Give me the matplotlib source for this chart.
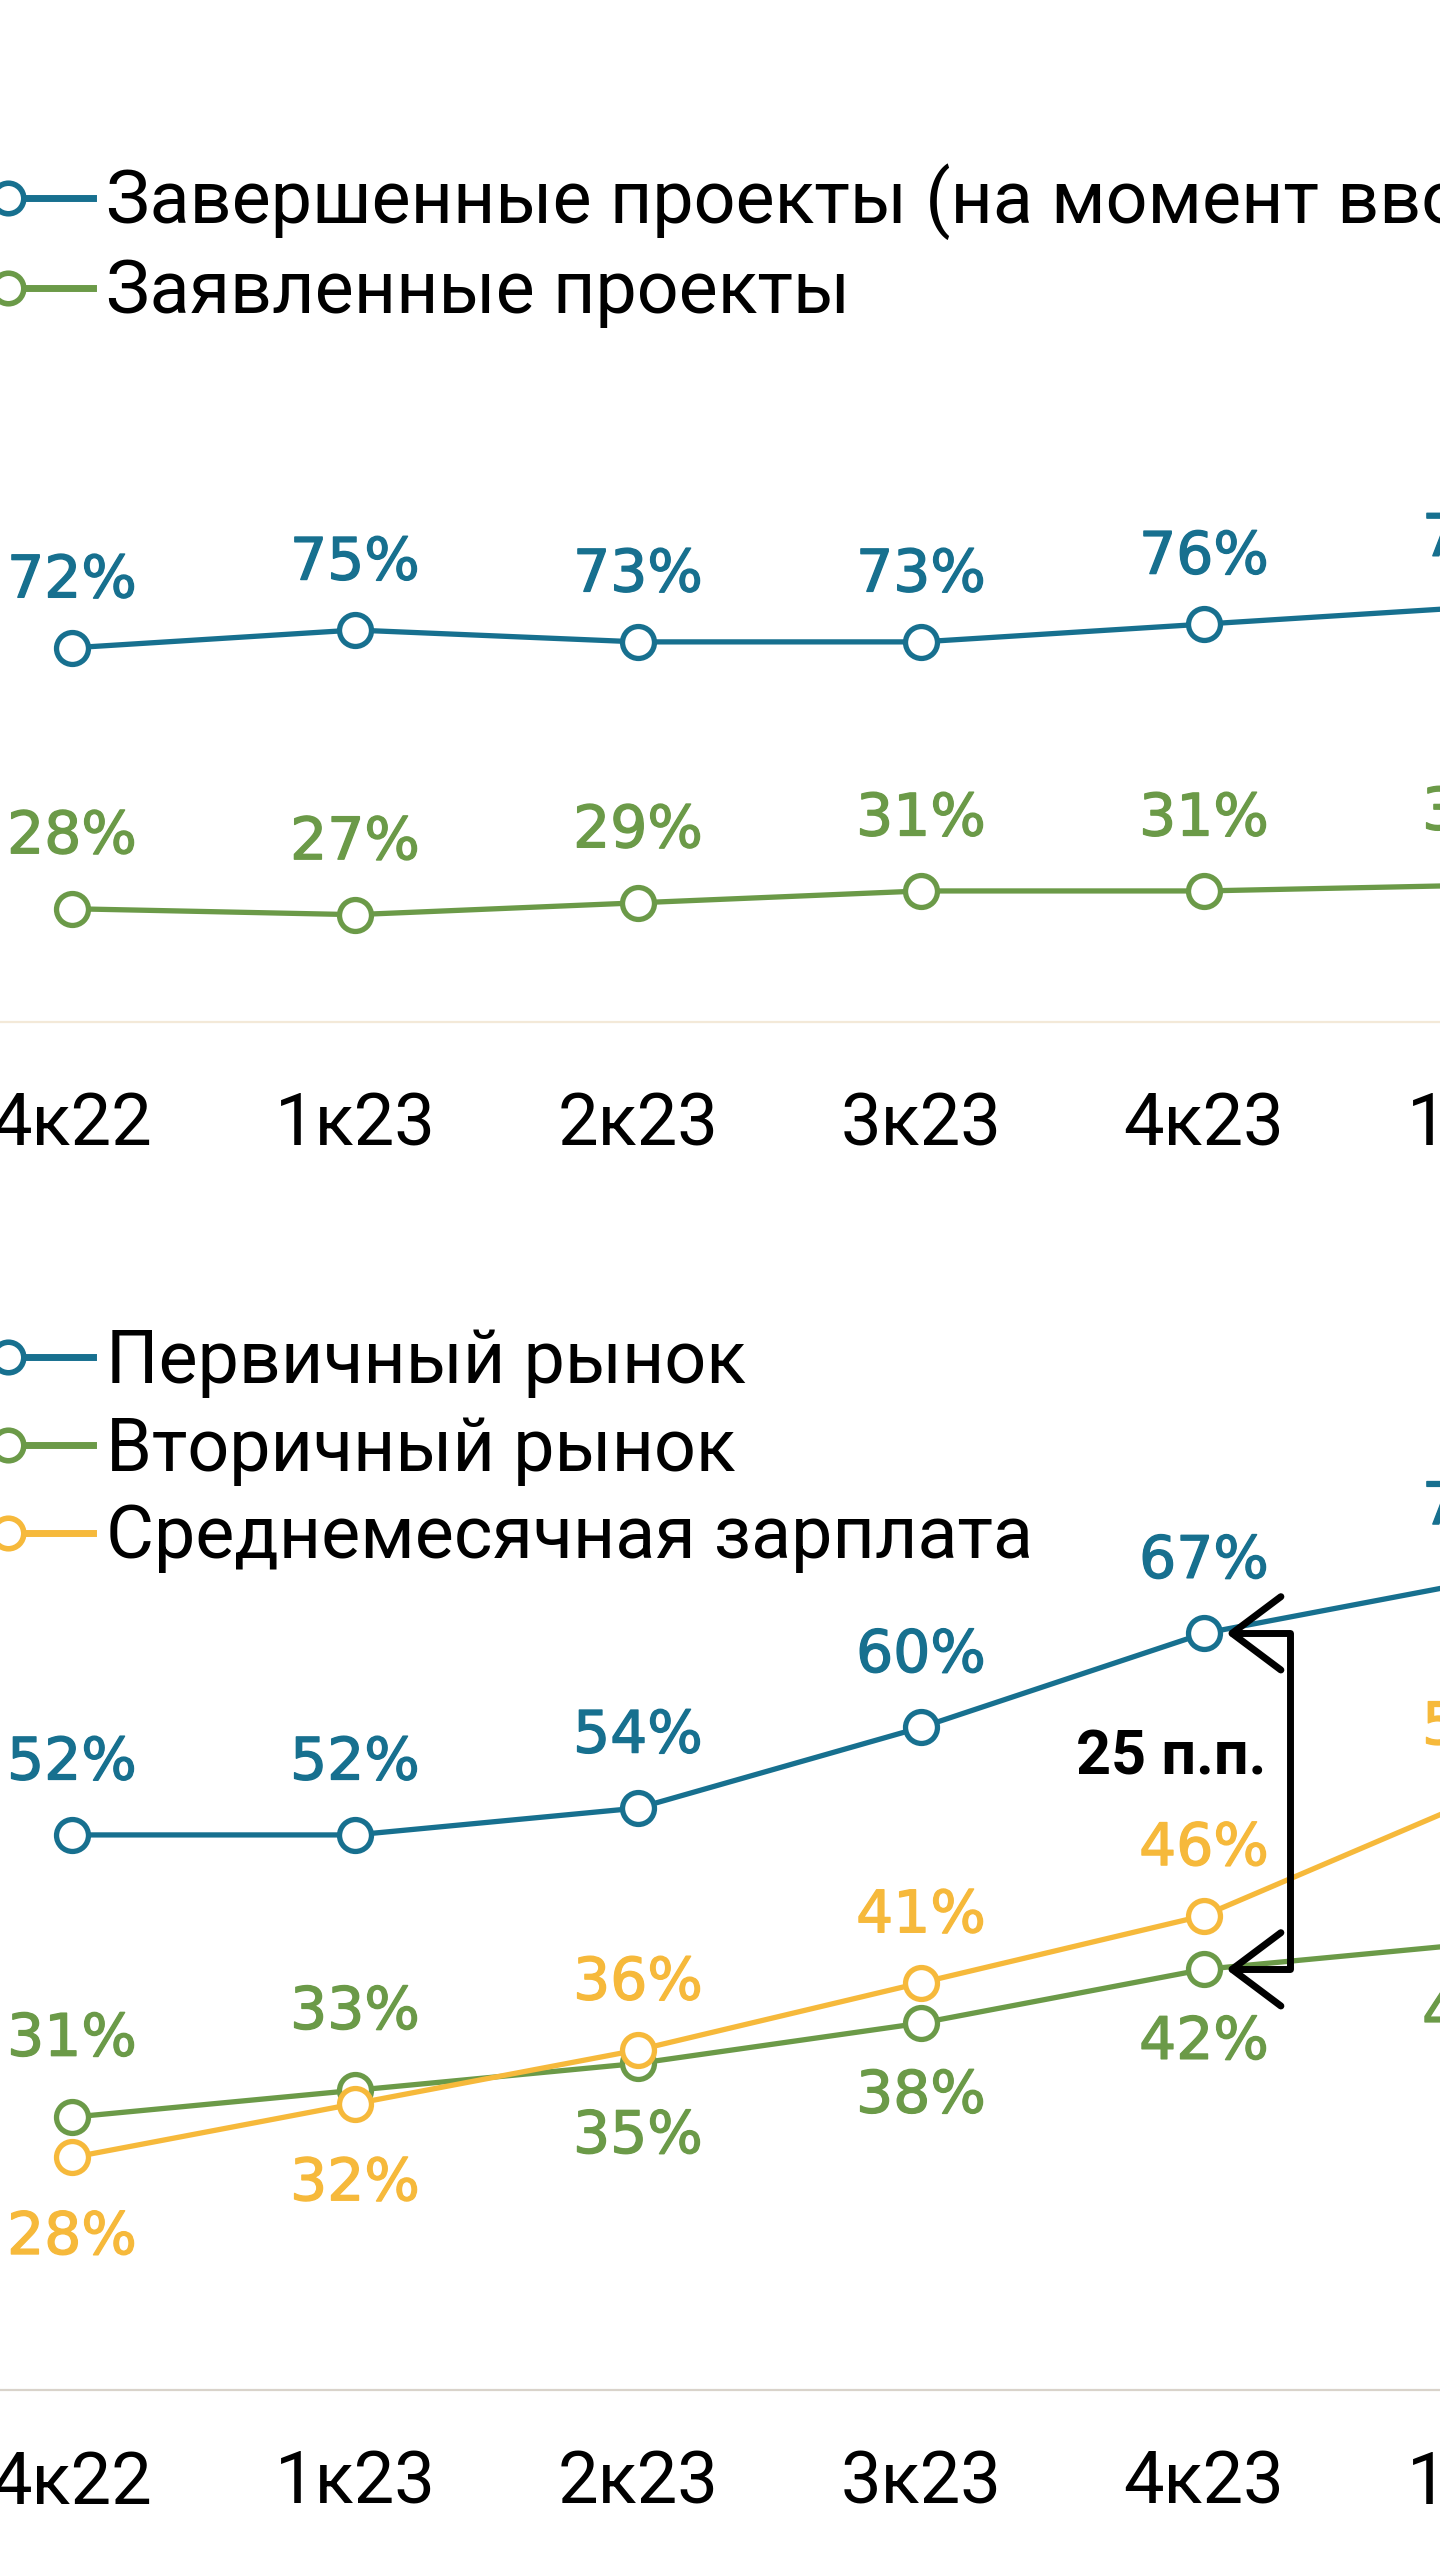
import matplotlib
matplotlib.use('Agg')
import matplotlib.pyplot as plt
import matplotlib.patheffects as pe
from matplotlib.lines import Line2D
from matplotlib.legend_handler import HandlerLine2D

quarters = ['4к22', '1к23', '2к23', '3к23', '4к23', '1к24']

# top chart
completed = [72, 75, 73, 73, 76, 79]
declared = [28, 27, 29, 31, 31, 32]

# bottom chart
primary = [52, 52, 54, 60, 67, 71]
secondary = [31, 33, 35, 38, 42, 44]
salary = [28, 32, 36, 41, 46, 55]

top_names = ['Завершенные проекты (на момент ввода)', 'Заявленные проекты']
bottom_names = ['Первичный рынок', 'Вторичный рынок', 'Среднемесячная зарплата']

BLUE = '#17708f'
GREEN = '#6b9a48'
YELLOW = '#f6b93b'

W, H = 1440, 2560
DPI = 100
X0, DX = 72, 283          # px of first point, px between quarters

fig = plt.figure(figsize=(W / DPI, H / DPI), dpi=DPI)
fig.patch.set_facecolor('white')

xlo = -X0 / DX
xhi = 5.6
ax_w = (xhi - xlo) * DX / W


class LeftMarker(HandlerLine2D):
	# marker only at the left end of the legend line
	def create_artists(self, *args, **kw):
		arts = super().create_artists(*args, **kw)
		for a in arts:
			a.set_markevery([0])
		return arts


def make_axes(base_px, top_px, y_base, px_per_unit, spine_color, pad):
	ax = fig.add_axes([0, (H - base_px) / H, ax_w, (base_px - top_px) / H])
	ax.set_xlim(xlo, xhi)
	ax.set_ylim(y_base, y_base + (base_px - top_px) / px_per_unit)
	for s in ['top', 'left', 'right']:
		ax.spines[s].set_visible(False)
	ax.spines['bottom'].set_color(spine_color)
	ax.spines['bottom'].set_linewidth(1.6)
	ax.set_yticks([])
	ax.set_xticks(range(len(quarters)))
	ax.set_xticklabels(quarters, fontsize=52, family='Roboto')
	ax.tick_params(axis='x', length=0, pad=pad)
	ax.patch.set_alpha(0)
	return ax


def draw(ax, vals, color, offsets):
	ax.plot(range(len(vals)), vals, color=color, lw=3.8, marker='o', ms=23,
		mfc='white', mec=color, mew=3.8, zorder=3)
	for i, (v, off) in enumerate(zip(vals, offsets)):
		ax.annotate(f'{v}%', (i, v), xytext=(0, off), textcoords='offset pixels',
			ha='center', va='center', fontsize=42, color=color, family='DejaVu Sans',
			annotation_clip=False,
			path_effects=[pe.withStroke(linewidth=1.0, foreground=color)])


def legend(colors, names, center_px):
	handles = [Line2D([], [], color=c, lw=5, marker='o', ms=22, mfc='white', mec=c,
		mew=4) for c in colors]
	fig.legend(handles, names, loc='center left',
		bbox_to_anchor=(-14 / W, (H - center_px) / H), frameon=False,
		numpoints=2, handlelength=1.75, handletextpad=-0.12, borderpad=0,
		borderaxespad=0, labelspacing=0.23,
		handler_map={Line2D: LeftMarker()},
		prop={'family': 'Roboto', 'size': 53})


# --- top chart
ax1 = make_axes(1022, 420, 8.9, 5.93, '#f3e9d8', 50)
draw(ax1, completed, BLUE, [67] * 6)
draw(ax1, declared, GREEN, [72] * 6)
legend([BLUE, GREEN], top_names, 246)

# --- bottom chart
ax2 = make_axes(2390, 1250, 10.7, 13.44, '#d9d3ca', 43)
draw(ax2, primary, BLUE, [72] * 6)
draw(ax2, secondary, GREEN, [78, 78, -73, -73, -73, -73])
draw(ax2, salary, YELLOW, [-80, -80, 67, 67, 67, 67])
legend([BLUE, GREEN, YELLOW], bottom_names, 1450)

# gap bracket between primary and secondary in 4к23
k = 4
ax2.annotate('', xy=(k, primary[k]), xytext=(k, secondary[k]),
	arrowprops=dict(arrowstyle='<->,head_length=1.6,head_width=1.2', color='black',
		lw=5, connectionstyle='bar,armA=0,armB=0,fraction=0.255',
		shrinkA=16, shrinkB=16, mutation_scale=22))
gap = primary[k] - secondary[k]
ax2.annotate(f'{gap} п.п.', (k, (primary[k] + secondary[k]) / 2), xytext=(-33, 44),
	textcoords='offset pixels', ha='center', va='center', fontsize=44,
	fontweight='bold', color='black', family='Roboto')

fig.savefig('out.png', dpi=DPI, facecolor='white')
